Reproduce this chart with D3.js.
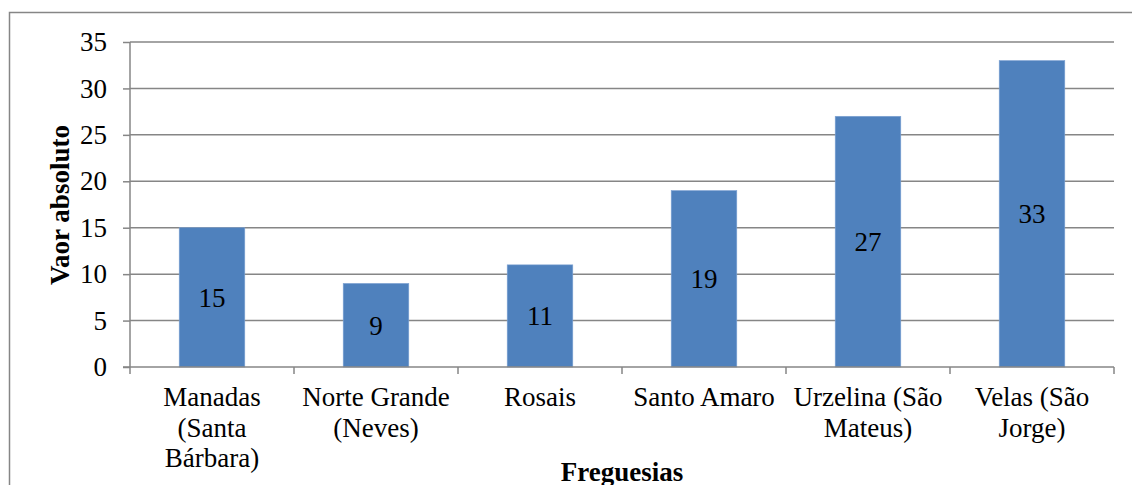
<!DOCTYPE html>
<html>
<head>
<meta charset="utf-8">
<script src="https://cdn.jsdelivr.net/npm/d3@7"></script>
</head>
<body style="margin:0;background:#fff">
<svg id="chart" width="1132" height="485"></svg>
<script>
// Chart data
const categories = [
    ["Manadas", "(Santa", "Bárbara)"],
    ["Norte Grande", "(Neves)"],
    ["Rosais"],
    ["Santo Amaro"],
    ["Urzelina (São", "Mateus)"],
    ["Velas (São", "Jorge)"]
];
const values = [15, 9, 11, 19, 27, 33];
const yTicks = [0, 5, 10, 15, 20, 25, 30, 35];

const FONT = "'Liberation Serif'";
const FS = "27px";
const svg = d3.select("#chart");
const margin = { top: 42, left: 130, right: 18 };
const width = 1132 - margin.left - margin.right;
const height = 367 - margin.top;

// outer frame
svg.append("rect")
    .attr("x", 9.5).attr("y", 12.5)
    .attr("width", 1140).attr("height", 500)
    .attr("fill", "none").attr("stroke", "#868686").attr("stroke-width", 1.5);

const chart = svg.append("g").attr("transform", `translate(${margin.left},${margin.top})`);

const x = d3.scaleBand().domain(d3.range(categories.length)).range([0, width]).paddingInner(0.6).paddingOuter(0.3);
const y = d3.scaleLinear().domain([0, 35]).range([height, 0]);

// gridlines
chart.selectAll(".grid").data(yTicks.slice(1)).enter().append("line")
    .attr("x1", 0).attr("x2", width)
    .attr("y1", d => y(d)).attr("y2", d => y(d))
    .attr("stroke", "#868686").attr("stroke-width", 1.5);

// y axis
const yAxis = chart.append("g")
    .call(d3.axisLeft(y).tickValues(yTicks).tickSize(7).tickPadding(16));
yAxis.select(".domain").attr("stroke", "#868686").attr("stroke-width", 1.5).attr("d", `M0,${height}V0`);
yAxis.selectAll(".tick line").attr("stroke", "#868686").attr("stroke-width", 1.5);
yAxis.selectAll(".tick text")
    .style("font-family", FONT).style("font-size", FS).attr("fill", "#000");

// bars
chart.selectAll(".bar").data(values).enter().append("rect")
    .attr("class", "bar")
    .attr("x", (d, i) => x(i))
    .attr("y", d => y(d))
    .attr("width", x.bandwidth())
    .attr("height", d => height - y(d))
    .attr("fill", "#4F81BD")
    .attr("stroke", "#7FA3D3").attr("stroke-width", 0.6);

// x axis line and category boundary ticks
const step = width / categories.length;
chart.append("line")
    .attr("x1", -7).attr("x2", width)
    .attr("y1", height).attr("y2", height)
    .attr("stroke", "#868686").attr("stroke-width", 1.5);
chart.selectAll(".xtick").data(d3.range(categories.length + 1)).enter().append("line")
    .attr("x1", d => d * step).attr("x2", d => d * step)
    .attr("y1", height).attr("y2", height + 7)
    .attr("stroke", "#868686").attr("stroke-width", 1.5);

// data labels
chart.selectAll(".lbl").data(values).enter().append("text")
    .attr("x", (d, i) => x(i) + x.bandwidth() / 2)
    .attr("y", d => (y(d) + height) / 2)
    .attr("dy", "0.35em")
    .attr("text-anchor", "middle")
    .style("font-family", FONT).style("font-size", FS)
    .text(d => d);

// category labels
categories.forEach((lines, i) => {
    const t = chart.append("text")
        .attr("x", x(i) + x.bandwidth() / 2)
        .attr("y", height + 39)
        .attr("text-anchor", "middle")
        .style("font-family", FONT).style("font-size", FS);
    lines.forEach((l, j) => {
        t.append("tspan").attr("x", x(i) + x.bandwidth() / 2).attr("dy", j === 0 ? 0 : 30.5).text(l);
    });
});

// axis titles
svg.append("text")
    .attr("x", margin.left + width / 2).attr("y", 481)
    .attr("text-anchor", "middle")
    .style("font-family", FONT).style("font-size", FS).style("font-weight", "bold")
    .text("Freguesias");

svg.append("text")
    .attr("transform", `translate(69,${margin.top + 163}) rotate(-90)`)
    .attr("text-anchor", "middle")
    .style("font-family", FONT).style("font-size", FS).style("font-weight", "bold")
    .text("Vaor absoluto");
</script>
</body>
</html>
